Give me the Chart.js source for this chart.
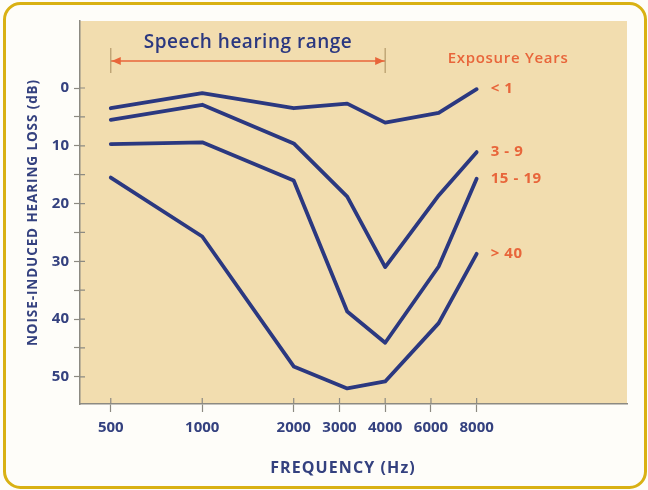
<!DOCTYPE html>
<html lang="en">
<head>
  <meta charset="UTF-8">
  <title>Noise-Induced Hearing Loss</title>
  <script src="https://cdn.jsdelivr.net/npm/chart.js"></script>
  <style>
    body { margin: 0; background: #ffffff; }
  </style>
</head>
<body>
  <canvas id="hearingChart" width="648" height="490"></canvas>
  <script>
    // data
    var frequencies = [500, 1000, 2000, 3000, 4000, 6000, 8000];
    var exposureGroups = ['< 1', '3 - 9', '15 - 19', '> 40'];
    var lossUnder1 = [3.5, 0.9, 3.5, 2.7, 6.0, 4.3, 0.2];
    var loss3to9 = [5.5, 2.9, 9.6, 18.8, 31.0, 18.6, 11.1];
    var loss15to19 = [9.7, 9.4, 16.0, 38.7, 44.1, 30.9, 15.7];
    var lossOver40 = [15.5, 25.7, 48.2, 52.0, 50.8, 40.7, 28.7];

    // the original puts the 3000 / 6000 tick marks half way between octaves
    var xTickValues = [500, 1000, 2000, 2830, 4000, 5660, 8000];
    var xTickLabels = ['500', '1000', '2000', '3000', '4000', '6000', '8000'];
    var yTickValues = [0, 5, 10, 15, 20, 25, 30, 35, 40, 45, 50];

    var navy = '#2b3880';
    var labelNavy = '#34417f';
    var orange = '#e8653a';
    var axisGray = '#8c8a82';

    Chart.defaults.font.family = "'Open Sans', sans-serif";

    function toPoints(values) {
      return values.map(function (v, i) { return { x: frequencies[i], y: v }; });
    }

    var allSeries = [lossUnder1, loss3to9, loss15to19, lossOver40];
    var datasets = allSeries.map(function (values, i) {
      return {
        label: exposureGroups[i],
        data: toPoints(values),
        borderColor: navy,
        borderWidth: 3.8,
        borderJoinStyle: 'round',
        borderCapStyle: 'round',
        pointRadius: 0,
        tension: 0,
        fill: false
      };
    });

    var decorPlugin = {
      id: 'decor',
      beforeDraw: function (chart) {
        var ctx = chart.ctx, a = chart.chartArea;
        ctx.save();
        ctx.fillStyle = '#fefdf9';
        ctx.fillRect(0, 0, chart.width, chart.height);
        ctx.fillStyle = '#f2ddaf';
        ctx.fillRect(a.left, a.top, a.right - a.left, a.bottom - a.top);
        // rounded frame
        ctx.strokeStyle = '#d9b114';
        ctx.lineWidth = 3;
        ctx.beginPath();
        ctx.roundRect(4.5, 3.5, chart.width - 7, chart.height - 6, 16);
        ctx.stroke();
        ctx.restore();
      },
      afterDraw: function (chart) {
        var ctx = chart.ctx, a = chart.chartArea;
        var xs = chart.scales.x, ys = chart.scales.y;
        ctx.save();
        // tick marks cross the axis lines a little
        ctx.strokeStyle = axisGray;
        ctx.lineWidth = 1.2;
        ctx.beginPath();
        xs.ticks.forEach(function (t, i) {
          var px = xs.getPixelForTick(i);
          ctx.moveTo(px, a.bottom - 6);
          ctx.lineTo(px, a.bottom);
        });
        ys.ticks.forEach(function (t, i) {
          var py = ys.getPixelForTick(i);
          ctx.moveTo(a.left, py);
          ctx.lineTo(a.left + 5, py);
        });
        ctx.stroke();

        // axis titles (drawn here to get the wide letter spacing)
        ctx.fillStyle = labelNavy;
        ctx.textAlign = 'center';
        ctx.textBaseline = 'middle';
        ctx.font = "bold 16px 'Open Sans', sans-serif";
        ctx.letterSpacing = '1.1px';
        ctx.fillText('FREQUENCY (Hz)', 343, 468);
        ctx.save();
        ctx.translate(33, (a.top + a.bottom) / 2);
        ctx.rotate(-Math.PI / 2);
        ctx.font = "bold 13.5px 'Open Sans', sans-serif";
        ctx.letterSpacing = '0.9px';
        ctx.fillText('NOISE-INDUCED HEARING LOSS (dB)', 0, 0);
        ctx.restore();

        // series labels next to the last point
        ctx.fillStyle = orange;
        ctx.font = "bold 15px 'Open Sans', sans-serif";
        ctx.letterSpacing = '0.6px';
        ctx.textAlign = 'left';
        var lastX = 0;
        chart.data.datasets.forEach(function (ds, i) {
          var meta = chart.getDatasetMeta(i);
          var pt = meta.data[meta.data.length - 1];
          lastX = pt.x;
          ctx.fillText(ds.label, pt.x + 14, pt.y);
        });
        ctx.font = "600 15px 'Open Sans', sans-serif";
        ctx.letterSpacing = '0.7px';
        ctx.fillText('Exposure Years', lastX - 29, 59);

        // speech hearing range arrow
        var x0 = xs.getPixelForValue(500), x1 = xs.getPixelForValue(4000);
        var ay = 61;
        ctx.strokeStyle = orange;
        ctx.lineWidth = 1.6;
        ctx.beginPath();
        ctx.moveTo(x0, ay); ctx.lineTo(x1, ay);
        ctx.stroke();
        ctx.strokeStyle = '#b59a6a';
        ctx.lineWidth = 1.2;
        ctx.beginPath();
        ctx.moveTo(x0, ay - 13); ctx.lineTo(x0, ay + 12);
        ctx.moveTo(x1, ay - 13); ctx.lineTo(x1, ay + 12);
        ctx.stroke();
        ctx.fillStyle = orange;
        ctx.beginPath();
        ctx.moveTo(x0 + 1, ay); ctx.lineTo(x0 + 10, ay - 4); ctx.lineTo(x0 + 10, ay + 4);
        ctx.closePath();
        ctx.moveTo(x1 - 1, ay); ctx.lineTo(x1 - 10, ay - 4); ctx.lineTo(x1 - 10, ay + 4);
        ctx.closePath();
        ctx.fill();

        ctx.fillStyle = navy;
        ctx.font = "600 19px 'Open Sans', sans-serif";
        ctx.letterSpacing = '0.5px';
        ctx.textAlign = 'center';
        ctx.fillText('Speech hearing range', (x0 + x1) / 2, 43);
        ctx.restore();
      }
    };

    var ctx = document.getElementById('hearingChart').getContext('2d');
    var hearingChart = new Chart(ctx, {
      type: 'line',
      data: { datasets: datasets },
      plugins: [decorPlugin],
      options: {
        responsive: false,
        animation: false,
        layout: { padding: { top: 21, right: 21, left: 0, bottom: 0 } },
        plugins: {
          legend: { display: false },
          tooltip: { enabled: false }
        },
        scales: {
          x: {
            type: 'logarithmic',
            min: 396,
            max: 25000,
            afterBuildTicks: function (scale) {
              scale.ticks = xTickValues.map(function (v) { return { value: v }; });
            },
            afterFit: function (scale) { scale.height = 86; },
            ticks: {
              autoSkip: false,
              maxRotation: 0,
              padding: 7,
              color: labelNavy,
              font: { size: 15, weight: 'bold' },
              callback: function (value, index) { return xTickLabels[index]; }
            },
            grid: { drawOnChartArea: false, tickLength: 8, color: axisGray, tickWidth: 1.2 },
            border: { color: axisGray, width: 1.5 },
            title: { display: false }
          },
          y: {
            reverse: true,
            min: -11.6,
            max: 54.7,
            afterBuildTicks: function (scale) {
              scale.ticks = yTickValues.map(function (v) { return { value: v }; });
            },
            afterFit: function (scale) { scale.width = 80; },
            ticks: {
              padding: 5,
              color: labelNavy,
              font: { size: 15, weight: 'bold' },
              callback: function (value) { return value % 10 === 0 ? String(value) : ''; }
            },
            grid: { drawOnChartArea: false, tickLength: 6, color: axisGray, tickWidth: 1.2 },
            border: { color: axisGray, width: 1.5 },
            title: { display: false }
          }
        }
      }
    });
  </script>
</body>
</html>
